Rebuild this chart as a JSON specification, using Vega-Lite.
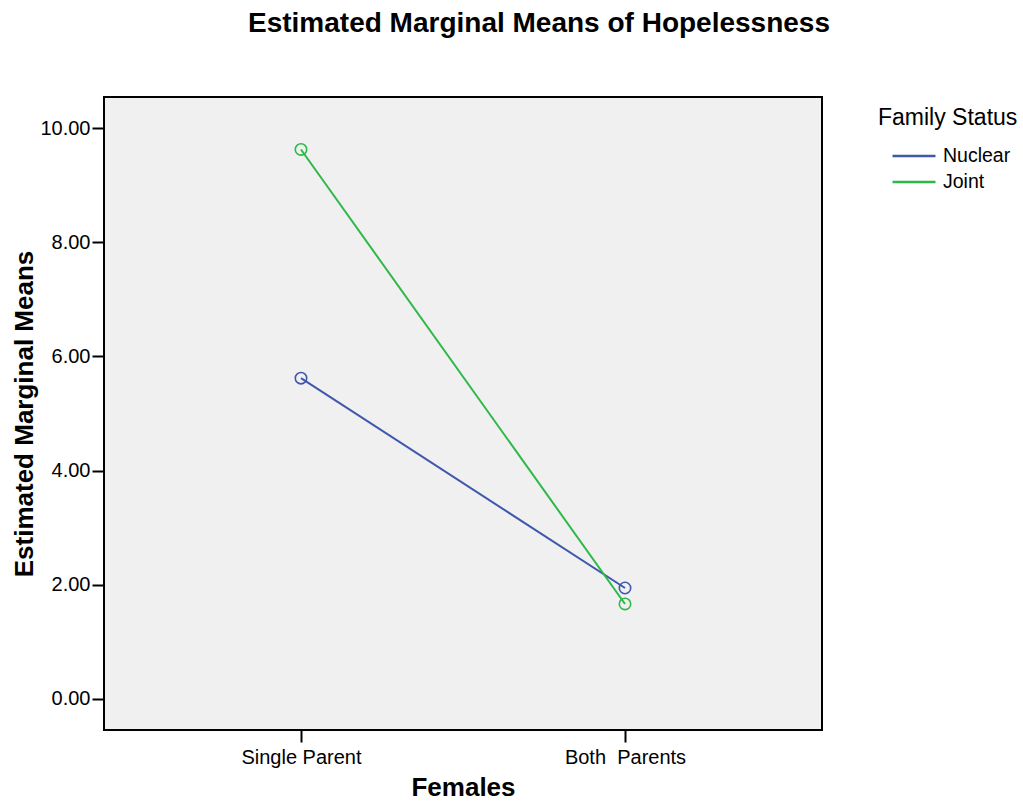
{
  "$schema": "https://vega.github.io/schema/vega-lite/v6.json",
  "autosize": {"type": "none"},
  "width": 718,
  "height": 633,
  "padding": {"left": 104, "top": 97, "right": 201, "bottom": 71},
  "background": "white",
  "title": {
    "text": "Estimated Marginal Means of Hopelessness",
    "font": "Liberation Sans",
    "fontSize": 28,
    "fontWeight": "bold",
    "color": "black",
    "anchor": "middle",
    "baseline": "alphabetic",
    "dx": 76,
    "offset": 37
  },
  "config": {
    "view": {"fill": "#F0F0F0", "stroke": "black", "strokeWidth": 2},
    "font": "Liberation Sans"
  },
  "data": {
    "values": [
      {"group": "Single Parent", "status": "Nuclear", "mean": 5.62},
      {"group": "Both\u00a0 Parents", "status": "Nuclear", "mean": 1.94},
      {"group": "Single Parent", "status": "Joint", "mean": 9.63},
      {"group": "Both\u00a0 Parents", "status": "Joint", "mean": 1.66}
    ]
  },
  "encoding": {
    "x": {
      "field": "group",
      "type": "nominal",
      "sort": ["Single Parent", "Both\u00a0 Parents"],
      "scale": {"type": "point", "padding": 0.608},
      "axis": {
        "title": "Females",
        "titleFont": "Liberation Sans",
        "titleFontSize": 26,
        "titleFontWeight": "bold",
        "titleColor": "black",
        "titlePadding": 7,
        "labelFont": "Liberation Sans",
        "labelFontSize": 20,
        "labelColor": "black",
        "labelAngle": 0,
        "labelPadding": 5,
        "tickSize": 12,
        "tickWidth": 2,
        "tickColor": "black",
        "domain": false,
        "grid": false
      }
    },
    "y": {
      "field": "mean",
      "type": "quantitative",
      "scale": {"domain": [-0.55, 10.55], "nice": false, "zero": false},
      "axis": {
        "title": "Estimated Marginal Means",
        "titleFont": "Liberation Sans",
        "titleFontSize": 26,
        "titleFontWeight": "bold",
        "titleColor": "black",
        "titlePadding": 2,
        "values": [0, 2, 4, 6, 8, 10],
        "format": ".2f",
        "labelFont": "Liberation Sans",
        "labelFontSize": 20,
        "labelColor": "black",
        "labelPadding": 2,
        "tickSize": 12,
        "tickWidth": 2,
        "tickColor": "black",
        "domain": false,
        "grid": false
      }
    },
    "color": {
      "field": "status",
      "type": "nominal",
      "sort": ["Nuclear", "Joint"],
      "scale": {"domain": ["Nuclear", "Joint"], "range": ["#3E58AC", "#2EB848"]},
      "legend": {
        "title": "Family Status",
        "orient": "none",
        "legendX": 774,
        "legendY": 10,
        "titleFont": "Liberation Sans",
        "titleFontSize": 23,
        "titleFontWeight": "normal",
        "titleColor": "black",
        "titlePadding": 14,
        "labelFont": "Liberation Sans",
        "labelFontSize": 19.5,
        "labelColor": "black",
        "labelOffset": 17,
        "symbolType": "M-2,0H2",
        "symbolSize": 462,
        "symbolStrokeWidth": 2.5,
        "symbolOffset": 24,
        "rowPadding": 4,
        "offset": 0,
        "padding": 0
      }
    }
  },
  "layer": [
    {"mark": {"type": "line", "strokeWidth": 2}},
    {"mark": {"type": "point", "shape": "circle", "filled": false, "size": 130, "strokeWidth": 1.6, "opacity": 1}}
  ]
}
